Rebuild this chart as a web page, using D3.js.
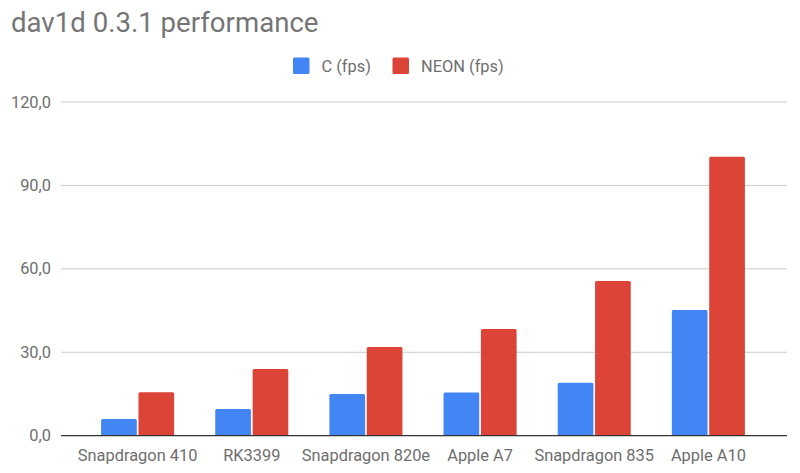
<!DOCTYPE html>
<html>
<head>
<meta charset="utf-8">
<script src="https://cdn.jsdelivr.net/npm/d3@7/dist/d3.min.js"></script>
<style>
  body { margin: 0; background: #fff; }
  svg { display: block; font-family: Roboto, "Noto Sans", sans-serif; }
</style>
</head>
<body>
<div id="chart"></div>
<script>
// data
const categories = ['Snapdragon 410', 'RK3399', 'Snapdragon 820e', 'Apple A7', 'Snapdragon 835', 'Apple A10'];
const seriesNames = ['C (fps)', 'NEON (fps)'];
const cValues = [6.0, 9.6, 15.0, 15.5, 19.0, 45.2];
const neonValues = [15.6, 24.0, 31.9, 38.4, 55.6, 100.3];
const yTicks = [0, 30, 60, 90, 120];
const colors = ['#4285f4', '#db4437'];

const W = 800, H = 473;
const textColor = '#6e6e6e';
const svg = d3.select('#chart').append('svg')
    .attr('width', W).attr('height', H);

const y = d3.scaleLinear().domain([0, 120]).range([435.7, 102]);
const x0 = d3.scaleBand().domain(categories).range([60, 786])
    .paddingInner(0.36).paddingOuter(0.36);
const x1 = d3.scaleBand().domain(seriesNames).range([0, x0.bandwidth()])
    .paddingInner(0.045);

const fmt = v => d3.format('.1f')(v).replace('.', ',');

// title
svg.append('text')
    .attr('x', 11).attr('y', 32)
    .attr('fill', '#757575').attr('font-size', 27.6)
    .text('dav1d 0.3.1 performance');

// legend
const legend = svg.append('g');
const legendX = [293, 392.5];
seriesNames.forEach((s, i) => {
    legend.append('rect')
        .attr('x', legendX[i]).attr('y', 57.5)
        .attr('width', 16.5).attr('height', 16.5)
        .attr('rx', 1.5)
        .attr('fill', colors[i]);
    legend.append('text')
        .attr('x', legendX[i] + 28.5).attr('y', 71.5)
        .attr('fill', textColor).attr('font-size', 16.4)
        .text(s);
});

// gridlines
svg.append('g').selectAll('line').data(yTicks.filter(d => d > 0)).join('line')
    .attr('x1', 61).attr('x2', 787)
    .attr('y1', d => y(d)).attr('y2', d => y(d))
    .attr('stroke', '#cccccc').attr('stroke-width', 1);

// bars
const rows = categories.map((c, i) => ({ cat: c, vals: [cValues[i], neonValues[i]] }));
const groups = svg.append('g').selectAll('g').data(rows).join('g')
    .attr('transform', d => `translate(${x0(d.cat)},0)`);
groups.selectAll('rect').data(d => d.vals.map((v, i) => ({ v, s: seriesNames[i], i }))).join('rect')
    .attr('x', d => x1(d.s))
    .attr('y', d => y(d.v))
    .attr('width', x1.bandwidth())
    .attr('height', d => y(0) - y(d.v) + 2)
    .attr('rx', 1.5)
    .attr('fill', d => colors[d.i]);

// white cover under baseline for bar bottoms
svg.append('rect').attr('x', 61).attr('y', y(0)).attr('width', 726).attr('height', 4).attr('fill', '#fff');

// baseline
svg.append('line')
    .attr('x1', 61).attr('x2', 787)
    .attr('y1', y(0)).attr('y2', y(0))
    .attr('stroke', '#333333').attr('stroke-width', 1.3);

// y labels
svg.append('g').selectAll('text').data(yTicks).join('text')
    .attr('x', 51).attr('y', d => y(d) + 5.5)
    .attr('text-anchor', 'end')
    .attr('fill', textColor).attr('font-size', 16.4)
    .text(fmt);

// x labels
svg.append('g').selectAll('text').data(categories).join('text')
    .attr('x', d => x0(d) + x0.bandwidth() / 2)
    .attr('y', 460.5)
    .attr('text-anchor', 'middle')
    .attr('fill', textColor).attr('font-size', 16.4)
    .text(d => d);
</script>
</body>
</html>
